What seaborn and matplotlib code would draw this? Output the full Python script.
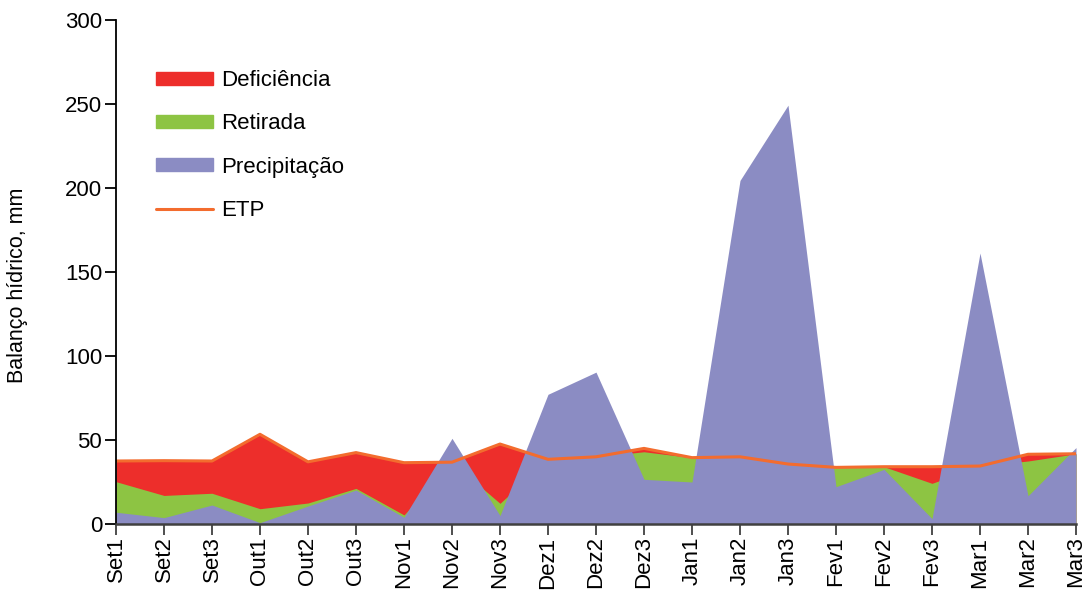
import numpy as np
import pandas as pd
import matplotlib
matplotlib.use("Agg")
import matplotlib.pyplot as plt
import seaborn as sns
from matplotlib.patches import Patch
from matplotlib.lines import Line2D

periodos = ["Set1", "Set2", "Set3", "Out1", "Out2", "Out3", "Nov1", "Nov2", "Nov3",
            "Dez1", "Dez2", "Dez3", "Jan1", "Jan2", "Jan3", "Fev1", "Fev2", "Fev3",
            "Mar1", "Mar2", "Mar3"]
etp = [37.5, 37.7, 37.5, 53.4, 37.0, 42.5, 36.5, 36.8, 47.6,
       38.5, 40.0, 45.0, 39.5, 40.0, 35.7, 33.7, 34.1, 34.1,
       34.5, 41.5, 41.8]
precipitacao = [7.0, 3.8, 11.3, 0.8, 10.7, 20.2, 4.0, 51.0, 5.0,
                77.2, 90.4, 26.6, 25.0, 204.5, 249.3, 22.2, 32.5, 3.2,
                161.3, 16.8, 45.5]
retirada = [18.2, 13.2, 7.0, 8.3, 1.8, 1.0, 1.4, 0.0, 7.3,
            0.0, 0.0, 16.4, 14.5, 0.0, 0.0, 11.5, 1.6, 21.0,
            0.0, 20.7, 0.0]

df = pd.DataFrame({"periodo": periodos, "ETP": etp,
                   "P": precipitacao, "Ret": retirada})
df["x"] = np.arange(len(df))
df["verde"] = np.minimum(df["P"] + df["Ret"], df["ETP"])

sns.set_style("ticks")
plt.rcParams["font.family"] = ["Liberation Sans", "DejaVu Sans"]
plt.rcParams["text.color"] = "black"
plt.rcParams["axes.labelcolor"] = "black"
plt.rcParams["xtick.color"] = "black"
plt.rcParams["ytick.color"] = "black"

fig = plt.figure(figsize=(10.86, 5.91), dpi=100)
ax = fig.add_axes([116 / 1086, 1 - 524 / 591, 960 / 1086, 504 / 591])

c_def = "#ED2E2B"
c_ret = "#8DC443"
c_pre = "#8B8CC3"
c_etp = "#F36C2E"

ax.fill_between(df["x"], 0, df["ETP"], color=c_def, lw=0)
ax.fill_between(df["x"], 0, df["verde"], color=c_ret, lw=0)
ax.fill_between(df["x"], 0, df["P"], color=c_pre, lw=0)
sns.lineplot(data=df, x="x", y="ETP", color=c_etp, lw=2.2, ax=ax)

ax.set_xlim(0, len(df) - 1)
ax.set_ylim(0, 300)
ax.set_xticks(df["x"])
ax.set_xticklabels(periodos, rotation=90, fontsize=16)
ax.set_yticks(np.arange(0, 301, 50))
ax.tick_params(axis="y", labelsize=16, length=8, width=1.3, color="black", pad=2)
ax.tick_params(axis="x", length=8, width=1.3, color="#404040", pad=1)
ax.set_xlabel("")
ax.set_ylabel("Balanço hídrico, mm", fontsize=15.5)
ax.yaxis.set_label_coords(-0.092, 0.474)
sns.despine(ax=ax)
ax.spines["left"].set_linewidth(1.3)
ax.spines["left"].set_color("black")
ax.spines["bottom"].set_linewidth(1.8)
ax.spines["bottom"].set_color("#404040")

handles = [Patch(color=c_def), Patch(color=c_ret), Patch(color=c_pre),
           Line2D([0], [0], color=c_etp, lw=2.2)]
labels = ["Deficiência", "Retirada", "Precipitação", "ETP"]
ax.legend(handles, labels, loc="upper left", bbox_to_anchor=(0.021, 0.94),
          frameon=False, fontsize=16, handlelength=2.57, handleheight=0.5,
          labelspacing=1.0, handletextpad=0.36)

fig.savefig("out.png", dpi=100)
